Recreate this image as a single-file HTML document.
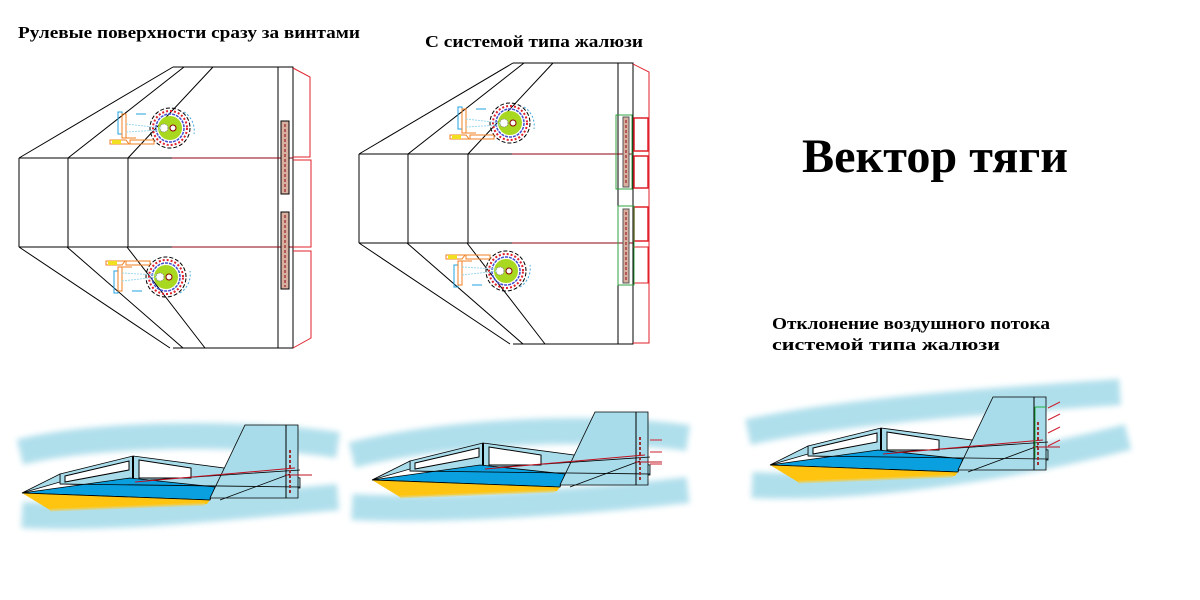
<!DOCTYPE html>
<html><head><meta charset="utf-8"><style>
body{margin:0;background:#fff;width:1200px;height:600px;overflow:hidden}
svg{display:block}
.t{font-family:"Liberation Serif","DejaVu Serif",serif;font-weight:bold;fill:#000}
</style></head><body>
<svg width="1200" height="600" viewBox="0 0 1200 600">
<defs>
<filter id="blur" x="-10%" y="-50%" width="120%" height="200%"><feGaussianBlur stdDeviation="3"/></filter>
<g id="prop">
<circle r="20" fill="none" stroke="#000" stroke-dasharray="4 2"/>
<circle r="17" fill="none" stroke="#e0202a" stroke-width="2" stroke-dasharray="2 2"/>
<circle r="14" fill="none" stroke="#4050d0" stroke-width="1.5" stroke-dasharray="3 1"/>
<circle r="12" fill="#a8d820"/>
<circle cx="3" r="3" fill="#fff" stroke="#8b0000"/>
<circle cx="-6" cy="0" r="4" fill="#fff" stroke="#888" stroke-dasharray="1 1"/>
<path d="M14,-16 A22,22 0 0 1 24,6" fill="none" stroke="#40a8e0" stroke-dasharray="2 2"/>
</g>
<g id="mount">
<rect x="-52" y="-16" width="4" height="22" fill="none" stroke="#20a0e0"/>
<path d="M-48,-14 h4 v24 h-4 z M-44,10 h10 M-60,12 h16 l3,4 h-19z M-40,12 h24 v4 h-24z" fill="none" stroke="#f08020"/>
<rect x="-58" y="12" width="9" height="4" fill="#f0e020"/>
<path d="M-44,-4 L-8,0 M-44,4 L-10,2" stroke="#9fd8ee" stroke-dasharray="2 1"/>
<path d="M-34,-14 h10" stroke="#20a0e0"/>
</g>
<g id="plan">
<g fill="none" stroke="#000" stroke-width="1">
<path d="M173,67 H293 V348 H173"/>
<path d="M278,67 V348"/>
<path d="M19,158 V247"/>
<path d="M19,158 L173,67 M68,158 L184,67 M128,158 L213,67"/>
<path d="M19,247 L170,348 M67,247 L183,348 M127,247 L205,348"/>
<path d="M19,158 H172 M19,247 H172"/>
<path d="M68,158 V247 M128,158 V247"/>
</g>
<path d="M172,158 H293 M172,247 H293" stroke="#8b0010" stroke-width="1"/>
</g>
<g id="boat">
<path d="M60,474 L133,456 L300,478 L300,488 L215,488 L60,484 Z" fill="#a8dcea" stroke="#000" stroke-width="0.8"/>
<path d="M22,493 L60,474 L60,482 Z" fill="#a8dcea" stroke="#000" stroke-width="0.8"/>
<path d="M65,476 L129,461 L129,470 L65,482Z" fill="#fff" stroke="#000"/>
<path d="M139,460 L191,468 L191,478 L139,478Z" fill="#fff" stroke="#000"/>
<path d="M133,456 V478" stroke="#000" stroke-width="2"/>
<path d="M22,493 L130,478 L215,487 L210,500 Z" fill="#0aa0e0" stroke="#000" stroke-width="0.8"/>
<path d="M22,493 L210,500 L207,504 L50,510 Z" fill="#ffc410"/>
<path d="M50,510 L205,504" stroke="#e8d060" stroke-width="3" opacity="0.6"/>
<path d="M245,425 H298 V498 H210 Z" fill="#a8dcea" stroke="#000" stroke-width="0.8"/>
<path d="M286,425 V498" stroke="#000"/>
<path d="M22,493 L210,500 M60,484 L300,487 M150,480 L300,470 M220,500 L290,474" stroke="#000" stroke-width="0.8" fill="none"/>
<path d="M135,482 L295,468 M285,475 H312" stroke="#c01020" stroke-width="1"/>
<path d="M290,450 V495" stroke="#a03030" stroke-width="2" stroke-dasharray="3 2"/>
</g>
</defs>

<!-- titles -->
<text class="t" x="18" y="38" font-size="17" textLength="342" lengthAdjust="spacingAndGlyphs">Рулевые поверхности сразу за винтами</text>
<text class="t" x="425" y="47" font-size="17" textLength="218" lengthAdjust="spacingAndGlyphs">С системой типа жалюзи</text>
<text class="t" x="802" y="172" font-size="48" textLength="266" lengthAdjust="spacingAndGlyphs">Вектор тяги</text>
<text class="t" x="772" y="329" font-size="17" textLength="278" lengthAdjust="spacingAndGlyphs">Отклонение воздушного потока</text>
<text class="t" x="772" y="350" font-size="17" textLength="228" lengthAdjust="spacingAndGlyphs">системой типа жалюзи</text>

<!-- plan view 1 -->
<use href="#plan"/>
<g fill="none" stroke="#e0202a" stroke-width="1">
<path d="M293,68 L310,77 V157 H293"/>
<path d="M293,160 H311 V247 H293"/>
<path d="M293,251 H311 V338 L293,348"/>
</g>
<rect x="281" y="121" width="8" height="73" fill="#d8b0a0" stroke="#000"/>
<rect x="281" y="212" width="8" height="77" fill="#d8b0a0" stroke="#000"/>
<path d="M285,124 V192 M285,215 V287" stroke="#8b0010" stroke-dasharray="3 2"/>
<g transform="translate(170,128)"><use href="#prop"/><use href="#mount"/></g>
<g transform="translate(166,277) scale(1,-1)"><use href="#prop"/><use href="#mount"/></g>

<!-- plan view 2 -->
<g transform="translate(340,-4)"><use href="#plan"/></g>
<g fill="none" stroke="#e0202a">
<path d="M633,64 L649,72 V343 L633,343"/>
<path d="M633,151 H649 M633,247 H649"/>
<rect x="634" y="118" width="14" height="33" stroke-width="1.5"/>
<rect x="634" y="156" width="14" height="32" stroke-width="1.5"/>
<rect x="634" y="207" width="14" height="34" stroke-width="1.5"/>
<rect x="634" y="247" width="14" height="36"/>
</g>
<rect x="616" y="115" width="16" height="74" fill="none" stroke="#30a040"/>
<rect x="618" y="206" width="16" height="79" fill="none" stroke="#30a040"/>
<rect x="623" y="117" width="6" height="70" fill="#d8b0a0" stroke="#555"/>
<rect x="623" y="209" width="6" height="74" fill="#d8b0a0" stroke="#555"/>
<path d="M626,120 V185 M626,212 V281" stroke="#8b0010" stroke-dasharray="3 2"/>
<g transform="translate(510,123)"><use href="#prop"/><use href="#mount"/></g>
<g transform="translate(506,271) scale(1,-1)"><use href="#prop"/><use href="#mount"/></g>

<!-- clouds -->
<g fill="none" stroke="#a8dcea" stroke-width="26" filter="url(#blur)" opacity="0.9">
<path d="M20,452 C100,432 250,432 338,445"/>
<path d="M22,515 C120,520 250,505 338,497"/>
<path d="M352,455 C450,430 600,425 688,438"/>
<path d="M352,507 C450,512 600,500 688,490"/>
<path d="M748,432 C850,410 1000,400 1120,392"/>
<path d="M752,485 C850,490 1000,470 1128,437"/>
</g>

<!-- boats -->
<use href="#boat"/>
<g transform="translate(350,-13)"><use href="#boat"/></g>
<g transform="translate(748,-28)"><use href="#boat"/></g>
<path d="M1035,407 V458 M1035,407 H1046" stroke="#20b040" fill="none"/>
<path d="M1048,408 L1060,402 M1048,420 L1060,414 M1048,433 L1060,427 M1048,446 L1060,440" stroke="#d02030"/>
<path d="M650,440 H662 M650,452 H662 M650,464 H662" stroke="#d02030"/>
</svg>
</body></html>
